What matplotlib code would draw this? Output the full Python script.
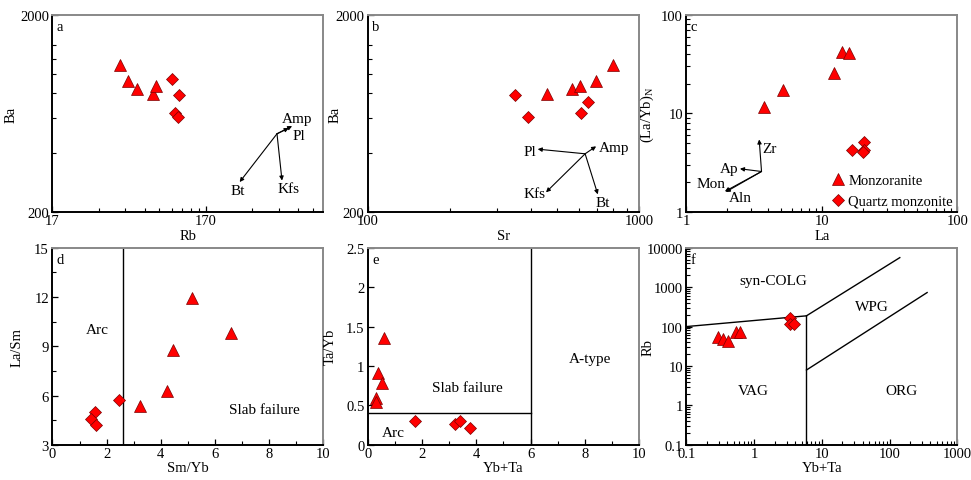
import numpy as np
import matplotlib
matplotlib.use('Agg')
import matplotlib.pyplot as plt
from matplotlib.ticker import NullFormatter, LogLocator

plt.rcParams['font.family'] = ['Liberation Serif', 'DejaVu Serif']
plt.rcParams['mathtext.fontset'] = 'custom'
plt.rcParams['mathtext.rm'] = 'Liberation Serif'

# a: Rb - Ba
a_mzg_rb = [47.2, 53.2, 60.4, 76.7, 81.0]
a_mzg_ba = [1120, 929, 837, 796, 870]
a_qm_rb = [102.4, 113.7, 108.0, 112.4]
a_qm_ba = [948, 789, 635, 606]

# b: Sr - Ba
b_mzg_sr = [456, 566, 606, 695, 801]
b_mzg_ba = [796, 837, 870, 929, 1120]
b_qm_sr = [349, 389, 613, 647]
b_qm_ba = [789, 606, 635, 722]

# c: La - (La/Yb)N
c_mzg_la = [3.72, 5.14, 12.2, 14.1, 15.9]
c_mzg_layb = [11.6, 17.5, 25.8, 42.5, 40.9]
c_qm_la = [16.8, 20.5, 20.5, 20.0]
c_qm_layb = [4.31, 5.19, 4.30, 4.05]

# d: Sm/Yb - La/Sm
d_mzg_smyb = [3.23, 4.23, 4.45, 5.17, 6.59]
d_mzg_lasm = [5.38, 6.25, 8.78, 11.95, 9.79]
d_qm_smyb = [2.45, 1.57, 1.41, 1.60]
d_qm_lasm = [5.75, 5.03, 4.57, 4.20]

# e: Yb+Ta - Ta/Yb
e_mzg_ybta = [0.59, 0.37, 0.53, 0.31, 0.28]
e_mzg_tayb = [1.35, 0.91, 0.79, 0.60, 0.54]
e_qm_ybta = [1.75, 3.20, 3.41, 3.78]
e_qm_tayb = [0.30, 0.26, 0.30, 0.22]

# f: Yb+Ta - Rb
f_mzg_ybta = [0.292, 0.347, 0.411, 0.547, 0.612]
f_mzg_rb = [53, 48, 42, 71, 71]
f_qm_ybta = [3.43, 3.36, 3.87]
f_qm_rb = [163, 115, 115]

# vector arrows (start, end, label, label position)
a_origin = (498, 499)
a_vectors = [('Amp', (625, 546), (673, 594)), ('Pl', (594, 533), (697, 489)),
             ('Bt', (284, 284), (276, 258)), ('Kfs', (537, 289), (595, 262))]
b_origin = (633, 395)
b_vectors = [('Pl', (423, 417), (396, 406)), ('Amp', (695, 431), (813, 424)),
             ('Kfs', (454, 252), (411, 248)), ('Bt', (705, 246), (736, 223))]
c_origin = (3.58, 2.58)
c_vectors = [('Zr', (3.44, 5.45), (4.12, 4.38)), ('Ap', (2.48, 2.75), (2.06, 2.79)),
             ('Mon', (1.92, 1.62), (1.53, 1.97)), ('Aln', (1.95, 1.60), (2.48, 1.42))]

# diagram boundaries
d_arc_line = ([2.6, 2.6], [3, 15])
e_vert_line = ([6, 6], [0, 2.5])
e_horz_line = ([0, 6], [0.4, 0.4])
f_vag_line = ([0.1, 5.9], [100, 187])
f_vert_line = ([5.9, 5.9], [0.1, 187])
f_wpg_line = ([5.9, 141], [187, 5590])
f_org_line = ([5.9, 357], [7.9, 728])

RED = '#ff0000'
EDGE = '#7a0000'
FS = 10.5
TS = 11


def style(ax):
    for s in ['left', 'bottom']:
        ax.spines[s].set_color('black')
        ax.spines[s].set_linewidth(1.4)
    for s in ['top', 'right']:
        ax.spines[s].set_color('#888888')
        ax.spines[s].set_linewidth(1.4)
    ax.tick_params(which='both', direction='in', top=False, right=False,
                   labelsize=FS, pad=1.5)
    ax.tick_params(axis='y', pad=2.5)
    ax.tick_params(which='major', length=4, width=0.9)
    ax.tick_params(which='minor', length=3, width=0.8)


def points(ax, x1, y1, x2, y2, lab=False):
    ax.plot(x1, y1, '^', ms=8.5, mfc=RED, mec=EDGE, mew=0.5, ls='none',
            label='Monzoranite' if lab else None)
    ax.plot(x2, y2, 'D', ms=6.3, mfc=RED, mec=EDGE, mew=0.5, ls='none',
            label='Quartz monzonite' if lab else None)


def vectors(ax, origin, vecs):
    for name, end, lpos in vecs:
        ax.annotate('', xy=end, xytext=origin,
                    arrowprops=dict(arrowstyle='-|>', lw=0.8, color='black',
                                    mutation_scale=6, shrinkA=0, shrinkB=0))
        ax.text(lpos[0], lpos[1], name, fontsize=TS, ha='center', va='center')


fig = plt.figure(figsize=(9.71, 4.81), dpi=100)
W, H = 0.279, 0.41
lefts = [0.054, 0.379, 0.707]
bottoms = [0.557, 0.073]
axs = [fig.add_axes([l, b, W, H]) for b in bottoms for l in lefts]
ax_a, ax_b, ax_c, ax_d, ax_e, ax_f = axs

# ---- a
ax = ax_a
points(ax, a_mzg_rb, a_mzg_ba, a_qm_rb, a_qm_ba)
vectors(ax, a_origin, a_vectors)
ax.set_xscale('log'); ax.set_yscale('log')
ax.set_xlim(17, 1000); ax.set_ylim(200, 2000)
ax.set_xticks([17, 170], ['17', '170'])
ax.set_xticks([34, 51, 68, 85, 102, 119, 136, 153, 340, 510, 680, 850], minor=True)
ax.set_yticks([200, 2000], ['200', '2000'])
ax.set_yticks([400, 600, 800, 1000, 1200, 1400], minor=True)
ax.xaxis.set_minor_formatter(NullFormatter()); ax.yaxis.set_minor_formatter(NullFormatter())
ax.set_xlabel('Rb', fontsize=FS, labelpad=1)
ax.set_ylabel('Ba', fontsize=FS)

# ---- b
ax = ax_b
points(ax, b_mzg_sr, b_mzg_ba, b_qm_sr, b_qm_ba)
vectors(ax, b_origin, b_vectors)
ax.set_xscale('log'); ax.set_yscale('log')
ax.set_xlim(100, 1000); ax.set_ylim(200, 2000)
ax.set_xticks([100, 1000], ['100', '1000'])
ax.set_xticks([200, 300, 400, 500, 600, 700, 800, 900], minor=True)
ax.set_yticks([200, 2000], ['200', '2000'])
ax.set_yticks([400, 600, 800, 1000, 1200, 1400], minor=True)
ax.xaxis.set_minor_formatter(NullFormatter()); ax.yaxis.set_minor_formatter(NullFormatter())
ax.set_xlabel('Sr', fontsize=FS, labelpad=1)
ax.set_ylabel('Ba', fontsize=FS)

# ---- c
ax = ax_c
points(ax, c_mzg_la, c_mzg_layb, c_qm_la, c_qm_layb, lab=True)
vectors(ax, c_origin, c_vectors)
ax.set_xscale('log'); ax.set_yscale('log')
ax.set_xlim(1, 100); ax.set_ylim(1, 100)
ax.set_xticks([1, 10, 100], ['1', '10', '100'])
ax.set_yticks([1, 10, 100], ['1', '10', '100'])
ax.xaxis.set_minor_locator(LogLocator(subs=np.arange(2, 10)))
ax.yaxis.set_minor_locator(LogLocator(subs=np.arange(2, 10)))
ax.xaxis.set_minor_formatter(NullFormatter()); ax.yaxis.set_minor_formatter(NullFormatter())
ax.set_xlabel('La', fontsize=FS, labelpad=1)
ax.set_ylabel('(La/Yb)$_\\mathrm{N}$', fontsize=FS)
ax.legend(loc='lower right', frameon=False, fontsize=10.5, handletextpad=0.1,
          borderaxespad=0.1, borderpad=0.2, labelspacing=0.5, handlelength=1.2)

# ---- d
ax = ax_d
ax.plot(*d_arc_line, color='black', lw=1)
points(ax, d_mzg_smyb, d_mzg_lasm, d_qm_smyb, d_qm_lasm)
ax.set_xlim(0, 10); ax.set_ylim(3, 15)
ax.set_xticks([0, 2, 4, 6, 8, 10])
ax.set_xticks([1, 3, 5, 7, 9], minor=True)
ax.set_yticks([3, 6, 9, 12, 15])
ax.set_yticks([4.5, 7.5, 10.5, 13.5], minor=True)
ax.text(1.66, 10.0, 'Arc', fontsize=TS, ha='center', va='center')
ax.text(7.83, 5.18, 'Slab failure', fontsize=TS, ha='center', va='center')
ax.set_xlabel('Sm/Yb', fontsize=FS, labelpad=1)
ax.set_ylabel('La/Sm', fontsize=FS)

# ---- e
ax = ax_e
ax.plot(*e_vert_line, color='black', lw=1)
ax.plot(*e_horz_line, color='black', lw=1)
points(ax, e_mzg_ybta, e_mzg_tayb, e_qm_ybta, e_qm_tayb)
ax.set_xlim(0, 10); ax.set_ylim(0, 2.5)
ax.set_xticks([0, 2, 4, 6, 8, 10])
ax.set_xticks([1, 3, 5, 7, 9], minor=True)
ax.set_yticks([0, 0.5, 1, 1.5, 2, 2.5], ['0', '0.5', '1', '1.5', '2', '2.5'])
ax.text(3.67, 0.73, 'Slab failure', fontsize=TS, ha='center', va='center')
ax.text(8.2, 1.1, 'A-type', fontsize=TS, ha='center', va='center')
ax.text(0.95, 0.16, 'Arc', fontsize=TS, ha='center', va='center')
ax.set_xlabel('Yb+Ta', fontsize=FS, labelpad=1)
ax.set_ylabel('Ta/Yb', fontsize=FS)

# ---- f
ax = ax_f
for line in [f_vag_line, f_vert_line, f_wpg_line, f_org_line]:
    ax.plot(*line, color='black', lw=1)
points(ax, f_mzg_ybta, f_mzg_rb, f_qm_ybta, f_qm_rb)
ax.set_xscale('log'); ax.set_yscale('log')
ax.set_xlim(0.1, 1000); ax.set_ylim(0.1, 10000)
ax.set_xticks([0.1, 1, 10, 100, 1000], ['0.1', '1', '10', '100', '1000'])
ax.set_yticks([0.1, 1, 10, 100, 1000, 10000], ['0.1', '1', '10', '100', '1000', '10000'])
ax.xaxis.set_minor_locator(LogLocator(subs=np.arange(2, 10)))
ax.yaxis.set_minor_locator(LogLocator(subs=np.arange(2, 10)))
ax.xaxis.set_minor_formatter(NullFormatter()); ax.yaxis.set_minor_formatter(NullFormatter())
ax.text(1.9, 1436, 'syn-COLG', fontsize=TS, ha='center', va='center')
ax.text(53.8, 322, 'WPG', fontsize=TS, ha='center', va='center')
ax.text(0.965, 2.37, 'VAG', fontsize=TS, ha='center', va='center')
ax.text(149, 2.37, 'ORG', fontsize=TS, ha='center', va='center')
ax.set_xlabel('Yb+Ta', fontsize=FS, labelpad=1)
ax.set_ylabel('Rb', fontsize=FS)

# y-label positions (axes fraction)
ylab_x = [-0.129, -0.096, -0.113, -0.107, -0.115, -0.117]
for ax, lx in zip(axs, ylab_x):
    ax.yaxis.set_label_coords(lx, 0.5)

for ax, lab in zip(axs, 'abcdef'):
    style(ax)
    ax.text(0.015, 0.975, lab, transform=ax.transAxes, fontsize=FS,
            ha='left', va='top')

fig.savefig('out.png', dpi=100)
